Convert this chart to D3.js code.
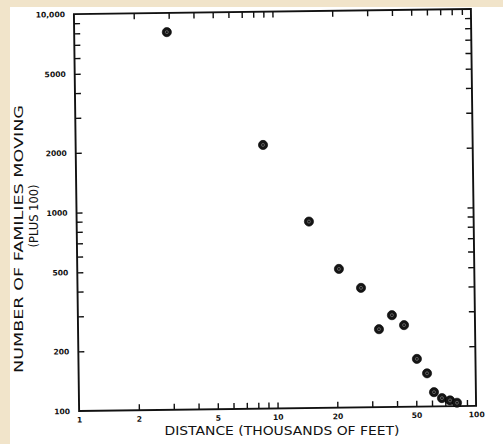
<!DOCTYPE html>
<html>
<head>
<meta charset="utf-8">
<script src="https://cdn.jsdelivr.net/npm/d3@7"></script>
<style>
  html, body { margin: 0; padding: 0; background: #f1e4ca; }
  svg { display: block; }
  text { font-family: "DejaVu Sans", sans-serif; fill: #111; }
</style>
</head>
<body>
<svg id="chart" width="503" height="444"></svg>
<script>
// ---- data ----
const distance = [2.93, 8.79, 14.8, 20.8, 26.8, 32.8, 38.2, 43.9, 50.7, 56.9, 61.5, 67.4, 74.0, 80.2];
const families = [8000, 2130, 870, 500, 400, 247, 290, 258, 174, 147, 118, 110, 107, 104];

const xTickValues = [2, 3, 4, 5, 6, 7, 8, 9, 10, 20, 30, 40, 50, 60, 70, 80, 90];
const xTickLabels = [1, 2, 5, 10, 20, 50, 100];
const yTickValues = [200, 300, 400, 500, 600, 700, 800, 900, 1000, 2000, 3000, 4000, 5000, 6000, 7000, 8000, 9000];
const yTickLabels = [100, 200, 500, 1000, 2000, 5000, 10000];

const xTitle = "DISTANCE (THOUSANDS OF FEET)";
const yTitle1 = "NUMBER OF FAMILIES MOVING";
const yTitle2 = "(PLUS 100)";

// ---- layout ----
const svg = d3.select("#chart");
svg.append("rect").attr("x", 10).attr("y", 7).attr("width", 493).attr("height", 437).attr("fill", "#ffffff");

const L = 76.5, R = 473.5, T = 11.5, B = 408.5;
const g = svg.append("g").attr("transform", "rotate(-0.75, 275, 210)");

const x = d3.scaleLog().domain([1, 100]).range([L, R]);
const y = d3.scaleLog().domain([100, 10000]).range([B, T]);

// tick marks (inward on all four sides)
const tickLen = 6;
function styleAxis(sel) {
  sel.select(".domain").remove();
  sel.selectAll(".tick line").attr("stroke", "#111").attr("stroke-width", 1.4);
  sel.selectAll(".tick text").style("font-family", "DejaVu Sans, sans-serif")
     .style("font-weight", "bold").style("font-size", "7.6px").attr("fill", "#111");
}

g.append("g").attr("transform", `translate(0,${B})`)
  .call(d3.axisBottom(x).tickValues(xTickValues).tickSize(-tickLen).tickFormat(""))
  .call(styleAxis);
g.append("g").attr("transform", `translate(0,${T})`)
  .call(d3.axisTop(x).tickValues(xTickValues).tickSize(-tickLen).tickFormat(""))
  .call(styleAxis);
g.append("g").attr("transform", `translate(${L},0)`)
  .call(d3.axisLeft(y).tickValues(yTickValues).tickSize(-tickLen).tickFormat(""))
  .call(styleAxis);
g.append("g").attr("transform", `translate(${R},0)`)
  .call(d3.axisRight(y).tickValues(yTickValues).tickSize(-tickLen).tickFormat(""))
  .call(styleAxis);

// tick labels
g.append("g").attr("transform", `translate(0,${B})`)
  .call(d3.axisBottom(x).tickValues(xTickLabels).tickSize(0).tickPadding(6).tickFormat(d3.format("d")))
  .call(styleAxis);
g.append("g").attr("transform", `translate(${L},0)`)
  .call(d3.axisLeft(y).tickValues(yTickLabels).tickSize(0).tickPadding(9)
        .tickFormat(d => d >= 10000 ? d3.format(",")(d) : d3.format("d")(d)))
  .call(styleAxis);

// frame
g.append("rect").attr("x", L).attr("y", T).attr("width", R - L).attr("height", B - T)
  .attr("fill", "none").attr("stroke", "#111").attr("stroke-width", 1.9);

// points
const pts = distance.map((d, i) => ({ d, v: families[i] }));
const pg = g.append("g");
pg.selectAll("circle.dot").data(pts).join("circle").attr("class", "dot")
  .attr("cx", p => x(p.d)).attr("cy", p => y(p.v)).attr("r", 4.6)
  .attr("fill", "#151515").attr("stroke", "#000").attr("stroke-width", 0.6);
pg.selectAll("circle.inner").data(pts).join("circle").attr("class", "inner")
  .attr("cx", p => x(p.d)).attr("cy", p => y(p.v)).attr("r", 1.5)
  .attr("fill", "none").attr("stroke", "#7a7a7a").attr("stroke-width", 0.7);

// axis titles
svg.append("text").attr("x", 282).attr("y", 435).attr("text-anchor", "middle")
  .attr("textLength", 235).attr("lengthAdjust", "spacingAndGlyphs")
  .style("font-size", "11.5px").text(xTitle);
svg.append("text").attr("transform", "translate(23,239) rotate(-90)").attr("text-anchor", "middle")
  .attr("textLength", 268).attr("lengthAdjust", "spacingAndGlyphs")
  .style("font-size", "12px").text(yTitle1);
svg.append("text").attr("transform", "translate(37.5,216) rotate(-90)").attr("text-anchor", "middle")
  .attr("textLength", 63).attr("lengthAdjust", "spacingAndGlyphs")
  .style("font-size", "12px").text(yTitle2);
</script>
</body>
</html>
